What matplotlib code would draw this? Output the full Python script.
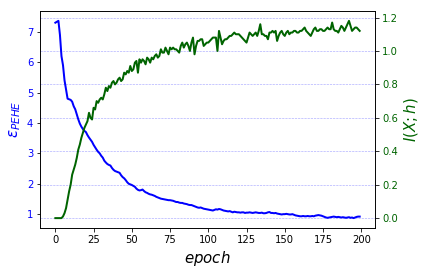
""" PEHE error and mutual information I(X;h) over training epochs """

import matplotlib
matplotlib.use("Agg")
import matplotlib.pyplot as plt
import numpy as np

###############################################################################
# data
###############################################################################
epochs = np.arange(200)

pehe = [
    7.30, 7.33, 7.36, 6.90, 6.20, 5.90, 5.40, 5.10, 4.80, 4.78,
    4.76, 4.70, 4.55, 4.45, 4.28, 4.12, 3.98, 3.88, 3.80, 3.74,
    3.70, 3.60, 3.52, 3.45, 3.38, 3.28, 3.20, 3.12, 3.05, 3.00,
    2.92, 2.86, 2.76, 2.70, 2.65, 2.62, 2.60, 2.52, 2.46, 2.42,
    2.40, 2.38, 2.36, 2.28, 2.22, 2.18, 2.12, 2.05, 2.00, 1.98,
    1.96, 1.93, 1.90, 1.84, 1.80, 1.78, 1.79, 1.81, 1.76, 1.72,
    1.70, 1.67, 1.65, 1.64, 1.62, 1.60, 1.57, 1.55, 1.53, 1.51,
    1.50, 1.49, 1.48, 1.47, 1.46, 1.46, 1.45, 1.44, 1.42, 1.40,
    1.40, 1.38, 1.37, 1.37, 1.35, 1.34, 1.33, 1.31, 1.30, 1.30,
    1.28, 1.26, 1.24, 1.22, 1.21, 1.22, 1.20, 1.18, 1.17, 1.16,
    1.15, 1.14, 1.13, 1.12, 1.14, 1.16, 1.15, 1.17, 1.16, 1.14,
    1.12, 1.11, 1.10, 1.09, 1.10, 1.08, 1.06, 1.08, 1.07, 1.06,
    1.06, 1.05, 1.06, 1.06, 1.04, 1.05, 1.05, 1.06, 1.05, 1.04,
    1.05, 1.06, 1.05, 1.04, 1.04, 1.05, 1.03, 1.03, 1.04, 1.06,
    1.07, 1.04, 1.04, 1.03, 1.04, 1.02, 1.01, 1.00, 0.99, 1.00,
    1.00, 1.01, 1.00, 0.99, 0.99, 1.00, 0.98, 0.96, 0.95, 0.94,
    0.93, 0.93, 0.94, 0.93, 0.93, 0.94, 0.93, 0.93, 0.94, 0.93,
    0.95, 0.96, 0.97, 0.96, 0.95, 0.93, 0.91, 0.89, 0.88, 0.89,
    0.90, 0.91, 0.92, 0.91, 0.90, 0.91, 0.90, 0.89, 0.90, 0.89,
    0.88, 0.89, 0.90, 0.88, 0.89, 0.87, 0.89, 0.91, 0.92, 0.92,
]

mutual_info = [
    0.00, 0.00, 0.00, 0.00, 0.00, 0.01, 0.03, 0.06, 0.11, 0.16,
    0.20, 0.26, 0.29, 0.32, 0.36, 0.41, 0.44, 0.48, 0.51, 0.54,
    0.56, 0.58, 0.63, 0.60, 0.59, 0.66, 0.65, 0.70, 0.69, 0.71,
    0.72, 0.71, 0.74, 0.78, 0.76, 0.79, 0.78, 0.81, 0.82, 0.80,
    0.81, 0.83, 0.84, 0.82, 0.83, 0.87, 0.86, 0.88, 0.87, 0.91,
    0.88, 0.89, 0.93, 0.94, 0.87, 0.95, 0.93, 0.95, 0.94, 0.92,
    0.96, 0.95, 0.93, 0.96, 0.95, 0.97, 0.98, 0.96, 0.97, 1.01,
    0.99, 0.99, 1.02, 1.00, 0.98, 1.02, 1.01, 1.02, 1.01, 1.01,
    1.00, 0.99, 1.03, 1.05, 1.02, 1.04, 1.05, 1.03, 1.00, 1.05,
    1.08, 0.98, 1.03, 1.06, 1.06, 1.07, 1.07, 1.03, 1.04, 1.05,
    1.05, 1.06, 1.07, 1.08, 1.08, 1.08, 1.00, 1.12, 1.08, 1.04,
    1.06, 1.07, 1.07, 1.08, 1.09, 1.09, 1.10, 1.11, 1.10, 1.10,
    1.10, 1.09, 1.08, 1.07, 1.06, 1.05, 1.08, 1.11, 1.10, 1.09,
    1.10, 1.11, 1.09, 1.12, 1.16, 1.10, 1.10, 1.09, 1.09, 1.07,
    1.11, 1.11, 1.12, 1.11, 1.12, 1.06, 1.09, 1.11, 1.12, 1.10,
    1.09, 1.11, 1.12, 1.10, 1.11, 1.11, 1.12, 1.12, 1.11, 1.11,
    1.12, 1.12, 1.13, 1.14, 1.12, 1.11, 1.10, 1.09, 1.11, 1.13,
    1.14, 1.12, 1.12, 1.13, 1.13, 1.12, 1.12, 1.13, 1.14, 1.13,
    1.13, 1.17, 1.13, 1.12, 1.12, 1.11, 1.13, 1.15, 1.14, 1.12,
    1.14, 1.16, 1.18, 1.15, 1.12, 1.13, 1.14, 1.14, 1.13, 1.12,
]

###############################################################################
# create the plot (72 dpi, so default sizes match the reference)
###############################################################################
fig, ax = plt.subplots(figsize=(427 / 72, 275 / 72), dpi=72)
fig.subplots_adjust(left=0.094, right=0.878, bottom=0.171, top=0.96)

ax.plot(epochs, pehe, color='b', linewidth=2)
ax.set_ylabel(r'$\epsilon_{PEHE}$', color='b', fontsize=15)
ax.tick_params(axis='y', labelcolor='b')
ax.set_yticks([1, 2, 3, 4, 5, 6, 7])
ax.set_xlabel(r'$epoch$', fontsize=15)
ax.set_xticks([0, 25, 50, 75, 100, 125, 150, 175, 200])

ax2 = ax.twinx()
ax2.plot(epochs, mutual_info, color='darkgreen', linewidth=2)
ax2.set_ylabel(r'$I(X;h)$', color='darkgreen', fontsize=15)
ax2.tick_params(axis='y', labelcolor='darkgreen')
ax2.set_yticks([0.0, 0.2, 0.4, 0.6, 0.8, 1.0, 1.2])
ax2.grid(color='b', linestyle='--', linewidth=0.6, alpha=0.35)

fig.savefig("out.png", dpi=72)
